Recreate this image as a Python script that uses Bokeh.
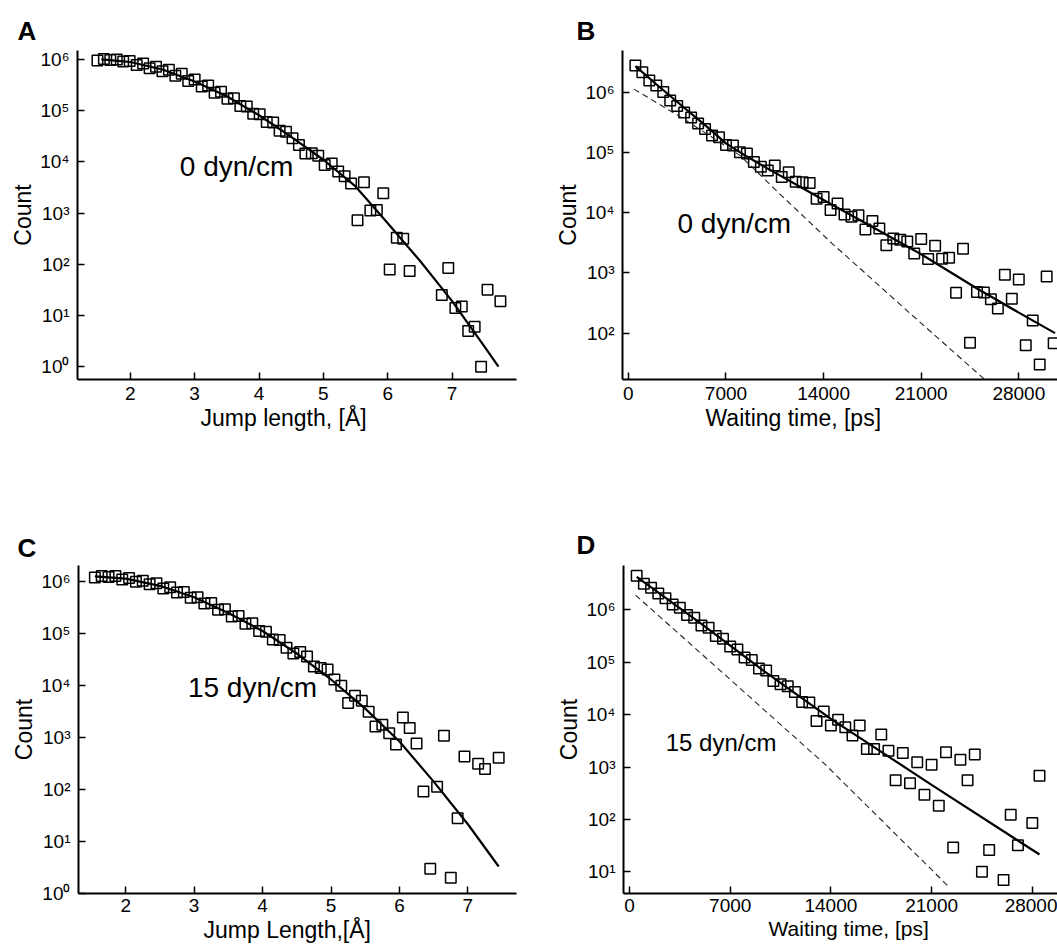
from bokeh.plotting import figure
from bokeh.models import Range1d, FixedTicker, Label, Title
from bokeh.layouts import column, row
from bokeh.embed import file_html
from bokeh.resources import INLINE

FONT = "Liberation Sans"

# ---------------- data ----------------
Y_TICKS = [1, 10, 100, 1000, 10000, 100000, 1000000]
Y_TICK_LABELS = ["10\u2070", "10\u00b9", "10\u00b2", "10\u00b3", "10\u2074", "10\u2075", "10\u2076"]
JUMP_TICKS = [2, 3, 4, 5, 6, 7]
WAIT_TICKS = [0, 7000, 14000, 21000, 28000]

# Panel A: jump length distribution, 0 dyn/cm
A_jump = [1.49, 1.59, 1.69, 1.79, 1.89, 1.99, 2.10, 2.20, 2.30, 2.40, 2.50, 2.60, 2.70, 2.80, 2.90,
          3.00, 3.11, 3.21, 3.31, 3.41, 3.51, 3.61, 3.71, 3.81, 3.91, 4.01, 4.12, 4.22, 4.32, 4.42,
          4.52, 4.62, 4.72, 4.82, 4.92, 5.02, 5.13, 5.23, 5.33, 5.43, 5.53, 5.63, 5.73, 5.83, 5.93,
          6.03, 6.14, 6.24, 6.34, 6.84, 6.94, 7.05, 7.15, 7.25, 7.35, 7.45, 7.55, 7.75]
A_count = [955000, 1023000, 977000, 1000000, 912000, 933000, 776000, 832000, 676000, 724000,
           589000, 631000, 479000, 525000, 380000, 407000, 295000, 309000, 224000, 234000,
           170000, 174000, 123000, 120000, 87100, 85100, 60300, 58900, 40700, 38900,
           28800, 21400, 14500, 14800, 13200, 8710, 9330, 6460, 5250, 3800,
           724, 3980, 1120, 1150, 2450, 79, 331, 316, 74, 25,
           85, 14, 15, 5, 6, 1, 32, 19]
A_fit_jump = [1.55, 2.0, 2.5, 3.0, 3.5, 4.0, 4.5, 5.0, 5.5, 6.0, 6.5, 7.0, 7.5, 7.72]
A_fit_count = [1000000, 891000, 638000, 372000, 191000, 81300, 30900, 11000, 3310, 631, 117, 19.1, 2.5, 1.0]

# Panel B: waiting time distribution, 0 dyn/cm
B_wait = [500, 1000, 1500, 2000, 2500, 3000, 3500, 4000, 4500, 5000, 5500, 6000, 6500, 7000, 7500,
          8000, 8500, 9000, 9500, 10000, 10500, 11000, 11500, 12000, 12500, 13000, 13500, 14000,
          14500, 15000, 15500, 16000, 16500, 17000, 17500, 18000, 18500, 19000, 19500, 20000,
          20500, 21000, 21500, 22000, 22500, 23000, 23500, 24000, 24500, 25000, 25500, 26000,
          26500, 27000, 27500, 28000, 28500, 29000, 29500, 30000, 30500]
B_count = [2750000, 2140000, 1550000, 1290000, 1000000, 724000, 589000, 457000, 380000, 302000,
           245000, 191000, 178000, 132000, 130000, 100000, 95500, 69200, 57500, 50100,
           60300, 38900, 46800, 32400, 32000, 30900, 17000, 18200, 11000, 14100,
           9330, 8510, 9020, 5250, 7240, 5430, 2880, 3720, 3550, 3310,
           2090, 3630, 1700, 2820, 1720, 1780, 468, 2510, 69, 479,
           470, 363, 257, 933, 372, 776, 63, 162, 30, 871, 68]
B_fit_wait = [500, 2000, 4000, 5500, 7000, 8500, 10000, 14000, 17500, 21000, 25000, 28000, 30600]
B_fit_count = [2690000, 1350000, 550000, 282000, 141000, 85100, 53700, 16200, 5750, 2040, 550, 219, 100]
B_single_wait = [400, 4000, 8000, 11000, 14600, 20000, 25600]
B_single_count = [1120000, 355000, 89000, 19000, 3090, 234, 16.6]

# Panel C: jump length distribution, 15 dyn/cm
C_jump = [1.55, 1.65, 1.75, 1.85, 1.95, 2.05, 2.15, 2.25, 2.35, 2.45, 2.55, 2.65, 2.75, 2.85, 2.95,
          3.05, 3.15, 3.25, 3.35, 3.45, 3.55, 3.65, 3.75, 3.85, 3.95, 4.05, 4.15, 4.25, 4.35, 4.45,
          4.55, 4.65, 4.75, 4.85, 4.95, 5.05, 5.15, 5.25, 5.35, 5.45, 5.55, 5.65, 5.75, 5.85, 5.95,
          6.05, 6.15, 6.25, 6.35, 6.45, 6.55, 6.65, 6.75, 6.85, 6.95, 7.15, 7.25, 7.45]
C_count = [1170000, 1260000, 1200000, 1250000, 1070000, 1150000, 977000, 1020000, 871000, 912000,
           724000, 759000, 603000, 617000, 479000, 490000, 372000, 380000, 282000, 288000,
           209000, 214000, 151000, 155000, 110000, 107000, 75900, 74100, 52500, 40700,
           43700, 35500, 22900, 21400, 20000, 12900, 9770, 4570, 6310, 5010,
           3090, 1620, 1740, 1200, 724, 2400, 1510, 759, 91, 3,
           112, 1070, 2, 28, 427, 309, 245, 407]
C_fit_jump = [1.55, 2.0, 2.5, 3.0, 3.5, 4.0, 4.5, 5.0, 5.5, 6.0, 6.5, 7.0, 7.45]
C_fit_count = [1230000, 1120000, 813000, 490000, 245000, 110000, 40700, 12900, 3550, 830, 141, 21.4, 3.3]

# Panel D: waiting time distribution, 15 dyn/cm
D_wait = [500, 1000, 1500, 2000, 2500, 3000, 3500, 4000, 4500, 5000, 5500, 6000, 6500, 7000, 7500,
          8000, 8500, 9000, 9500, 10000, 10500, 11000, 11500, 12000, 12500, 13000, 13500, 14000,
          14500, 15000, 15500, 16000, 16500, 17000, 17500, 18000, 18500, 19000, 19500, 20000,
          20500, 21000, 21500, 22000, 22500, 23000, 23500, 24000, 24500, 25000, 26000, 26500,
          27000, 28000, 28500]
D_count = [4470000, 3160000, 2630000, 2040000, 1660000, 1260000, 1100000, 794000, 708000, 501000,
           457000, 316000, 282000, 200000, 174000, 123000, 110000, 75900, 69200, 43700,
           38000, 34700, 26900, 17400, 17000, 7590, 11500, 6170, 7940, 5750,
           3980, 6170, 2210, 2200, 4170, 2040, 562, 1860, 490, 1230,
           295, 1110, 182, 1910, 29, 1380, 562, 1740, 10, 26,
           7, 123, 32, 85, 684]
D_fit_wait = [500, 5000, 9500, 14000, 21000, 28500]
D_fit_count = [4270000, 537000, 63100, 8320, 457, 21.4]
D_single_wait = [420, 7000, 13600, 22250]
D_single_count = [1910000, 46800, 1120, 5.0]


# ---------------- helpers ----------------
def make_panel(width, height, bl, br, bt, bb, xr, yr, xticks, xstandoff):
    p = figure(width=width, height=height, x_range=Range1d(*xr), y_range=Range1d(*yr),
               y_axis_type="log", output_backend="svg", toolbar_location=None, title=None,
               min_border_left=bl, min_border_right=br, min_border_top=bt, min_border_bottom=bb)
    p.grid.visible = False
    p.outline_line_color = None
    p.background_fill_color = "white"
    p.border_fill_color = "white"
    p.xaxis.ticker = FixedTicker(ticks=xticks)
    p.yaxis.ticker = FixedTicker(ticks=Y_TICKS)
    p.yaxis.major_label_overrides = dict(zip(Y_TICKS, Y_TICK_LABELS))
    for ax in (p.xaxis[0], p.yaxis[0]):
        ax.axis_line_width = 2
        ax.axis_line_color = "black"
        ax.major_tick_line_width = 1.5
        ax.major_tick_line_color = "black"
        ax.major_tick_in = 7
        ax.major_tick_out = 0
        ax.minor_tick_line_color = None
        ax.major_label_text_font = FONT
        ax.major_label_text_font_size = "19px"
        ax.major_label_text_color = "black"
        ax.axis_label_text_font = FONT
        ax.axis_label_text_font_style = "normal"
        ax.axis_label_text_font_size = "23px"
        ax.axis_label_text_color = "black"
    p.xaxis.major_label_standoff = xstandoff
    p.yaxis.major_label_standoff = 8
    p.yaxis.axis_label = "Count"
    p.yaxis.axis_label_standoff = 1
    return p


def add_text(p, x, y, text, size):
    p.add_layout(Label(x=x, y=y, text=text, text_font=FONT, text_font_size=size,
                       text_color="black", text_align="left", text_baseline="alphabetic"))


def add_letter(p, letter, offset, standoff):
    p.add_layout(Title(text=letter, align="left", offset=offset, standoff=standoff,
                       text_font=FONT, text_font_size="26px", text_font_style="bold",
                       text_color="black"), "above")


def add_xlabel(p, text, offset, size, standoff):
    p.add_layout(Title(text=text, align="left", offset=offset, standoff=standoff,
                       text_font=FONT, text_font_size=size, text_font_style="normal",
                       text_color="black"), "below")


def squares(p, x, y):
    p.scatter(x, y, marker="square", size=10.5, fill_color=None, line_color="black", line_width=1.5)


# ---------------- panels ----------------
pA = make_panel(545, 500, 77, 29, 48, 121, (1.18, 8.0), (10 ** -0.25, 10 ** 6.175), JUMP_TICKS, 7)
squares(pA, A_jump, A_count)
pA.line(A_fit_jump, A_fit_count, line_color="black", line_width=2.2)
add_text(pA, 2.77, 8000, "0 dyn/cm", "28px")
add_letter(pA, "A", -60, 10)
add_xlabel(pA, "Jump length, [\u00c5]", 123, "23px", 0)

pB = make_panel(512, 500, 77, 0, 50, 121, (-423, 30776), (10 ** 1.23, 10 ** 6.69), WAIT_TICKS, 7)
squares(pB, B_wait, B_count)
pB.line(B_single_wait, B_single_count, line_color="#222222", line_width=1.1, line_dash="6 4")
pB.line(B_fit_wait, B_fit_count, line_color="black", line_width=2.2)
add_text(pB, 3520, 6600, "0 dyn/cm", "28px")
add_letter(pB, "B", -46, 10)
add_xlabel(pB, "Waiting time, [ps]", 83, "23px", 0)

pC = make_panel(545, 445, 78, 29, 58, 52, (1.311, 7.71), (1.0, 10 ** 6.30), JUMP_TICKS, 5)
squares(pC, C_jump, C_count)
pC.line(C_fit_jump, C_fit_count, line_color="black", line_width=2.2)
add_text(pC, 2.91, 9000, "15 dyn/cm", "28px")
add_letter(pC, "C", -61, 6)
add_xlabel(pC, "Jump Length,[\u00c5]", 125, "23px", 0)

pD = make_panel(512, 445, 78, 0, 65, 52, (-417, 29751), (10 ** 0.586, 10 ** 6.846), WAIT_TICKS, 5)
squares(pD, D_wait, D_count)
pD.line(D_single_wait, D_single_count, line_color="#222222", line_width=1.1, line_dash="6 4")
pD.line(D_fit_wait, D_fit_count, line_color="black", line_width=2.2)
add_text(pD, 2516, 2900, "15 dyn/cm", "24px")
add_letter(pD, "D", -47, 12)
add_xlabel(pD, "Waiting time, [ps]", 145, "21px", 0)

layout = column(row(pA, pB), row(pC, pD))

with open("out.html", "w") as f:
    f.write(file_html(layout, INLINE, title="Jump length and waiting time distributions"))
